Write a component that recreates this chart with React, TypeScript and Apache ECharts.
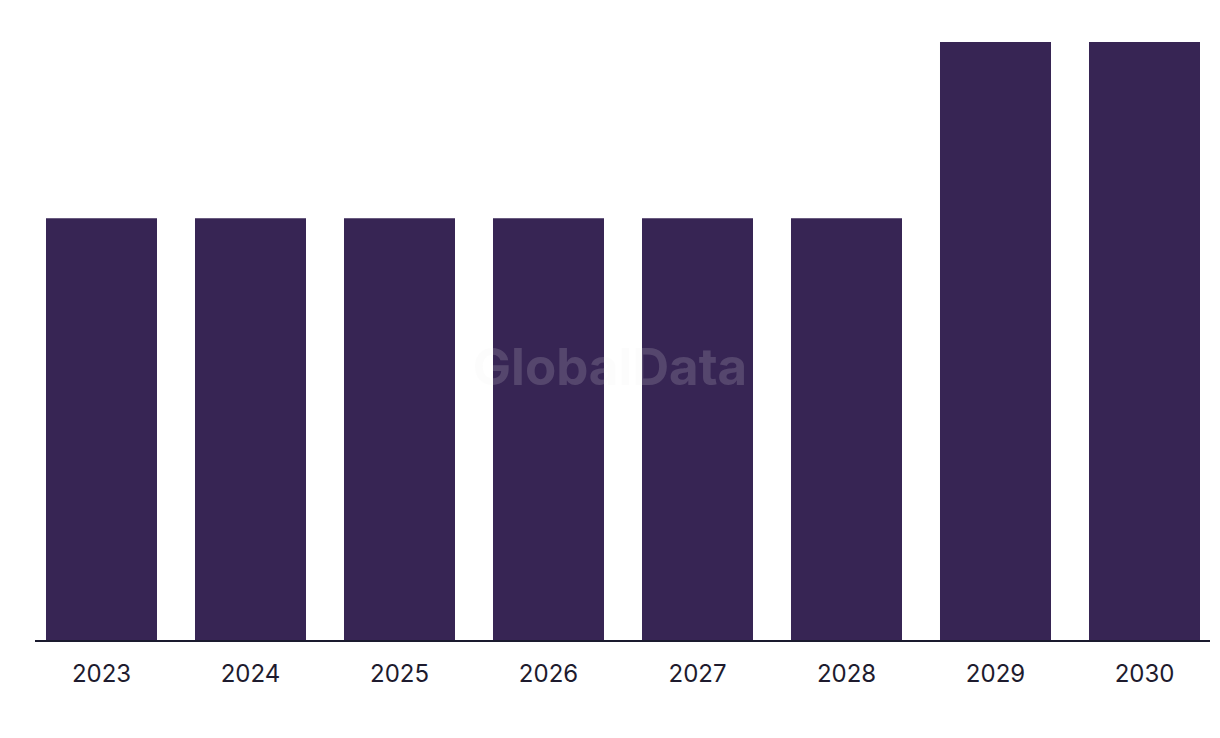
import React, { useEffect, useRef } from "react";
import * as echarts from "echarts";

const categories = ["2023", "2024", "2025", "2026", "2027", "2028", "2029", "2030"];
const values = [2.4, 2.4, 2.4, 2.4, 2.4, 2.4, 3.4, 3.4];
const yMax = 3.4;

export default function App() {
  const ref = useRef<HTMLDivElement>(null);
  useEffect(() => {
    if (!ref.current) return;
    const chart = echarts.init(ref.current, null, { renderer: "svg" });
    chart.setOption({
      animation: false,
      backgroundColor: "#ffffff",
      grid: { left: 27, right: 1, top: 42, bottom: 97, containLabel: false },
      xAxis: {
        type: "category",
        data: categories,
        axisLine: { show: false },
        axisTick: { show: false },
        axisLabel: {
          color: "#1e1b2e",
          fontSize: 24,
          fontFamily: "Inter, 'Noto Sans', sans-serif",
          margin: 20,
        },
      },
      yAxis: {
        type: "value",
        min: 0,
        max: yMax,
        show: false,
        splitLine: { show: false },
      },
      series: [
        {
          type: "bar",
          data: values,
          barCategoryGap: "25.5%",
          itemStyle: { color: "#372554" },
        },
      ],
      graphic: [
        {
          type: "line",
          shape: { x1: 35, y1: 641, x2: 1210, y2: 641 },
          style: { stroke: "#1a1a2e", lineWidth: 2 },
          z: 10,
        },
        {
          type: "text",
          left: "center",
          top: 341,
          style: {
            text: "GlobalData",
            fontSize: 51,
            fontWeight: "bold",
            fontFamily: "Inter, 'Noto Sans', sans-serif",
            fill: "rgba(235,235,240,0.17)",
          },
          z: 20,
        },
      ],
    });
    return () => chart.dispose();
  }, []);
  return (
    <div
      ref={ref}
      style={{ position: "absolute", left: 0, top: 0, width: 1220, height: 738 }}
    />
  );
}
